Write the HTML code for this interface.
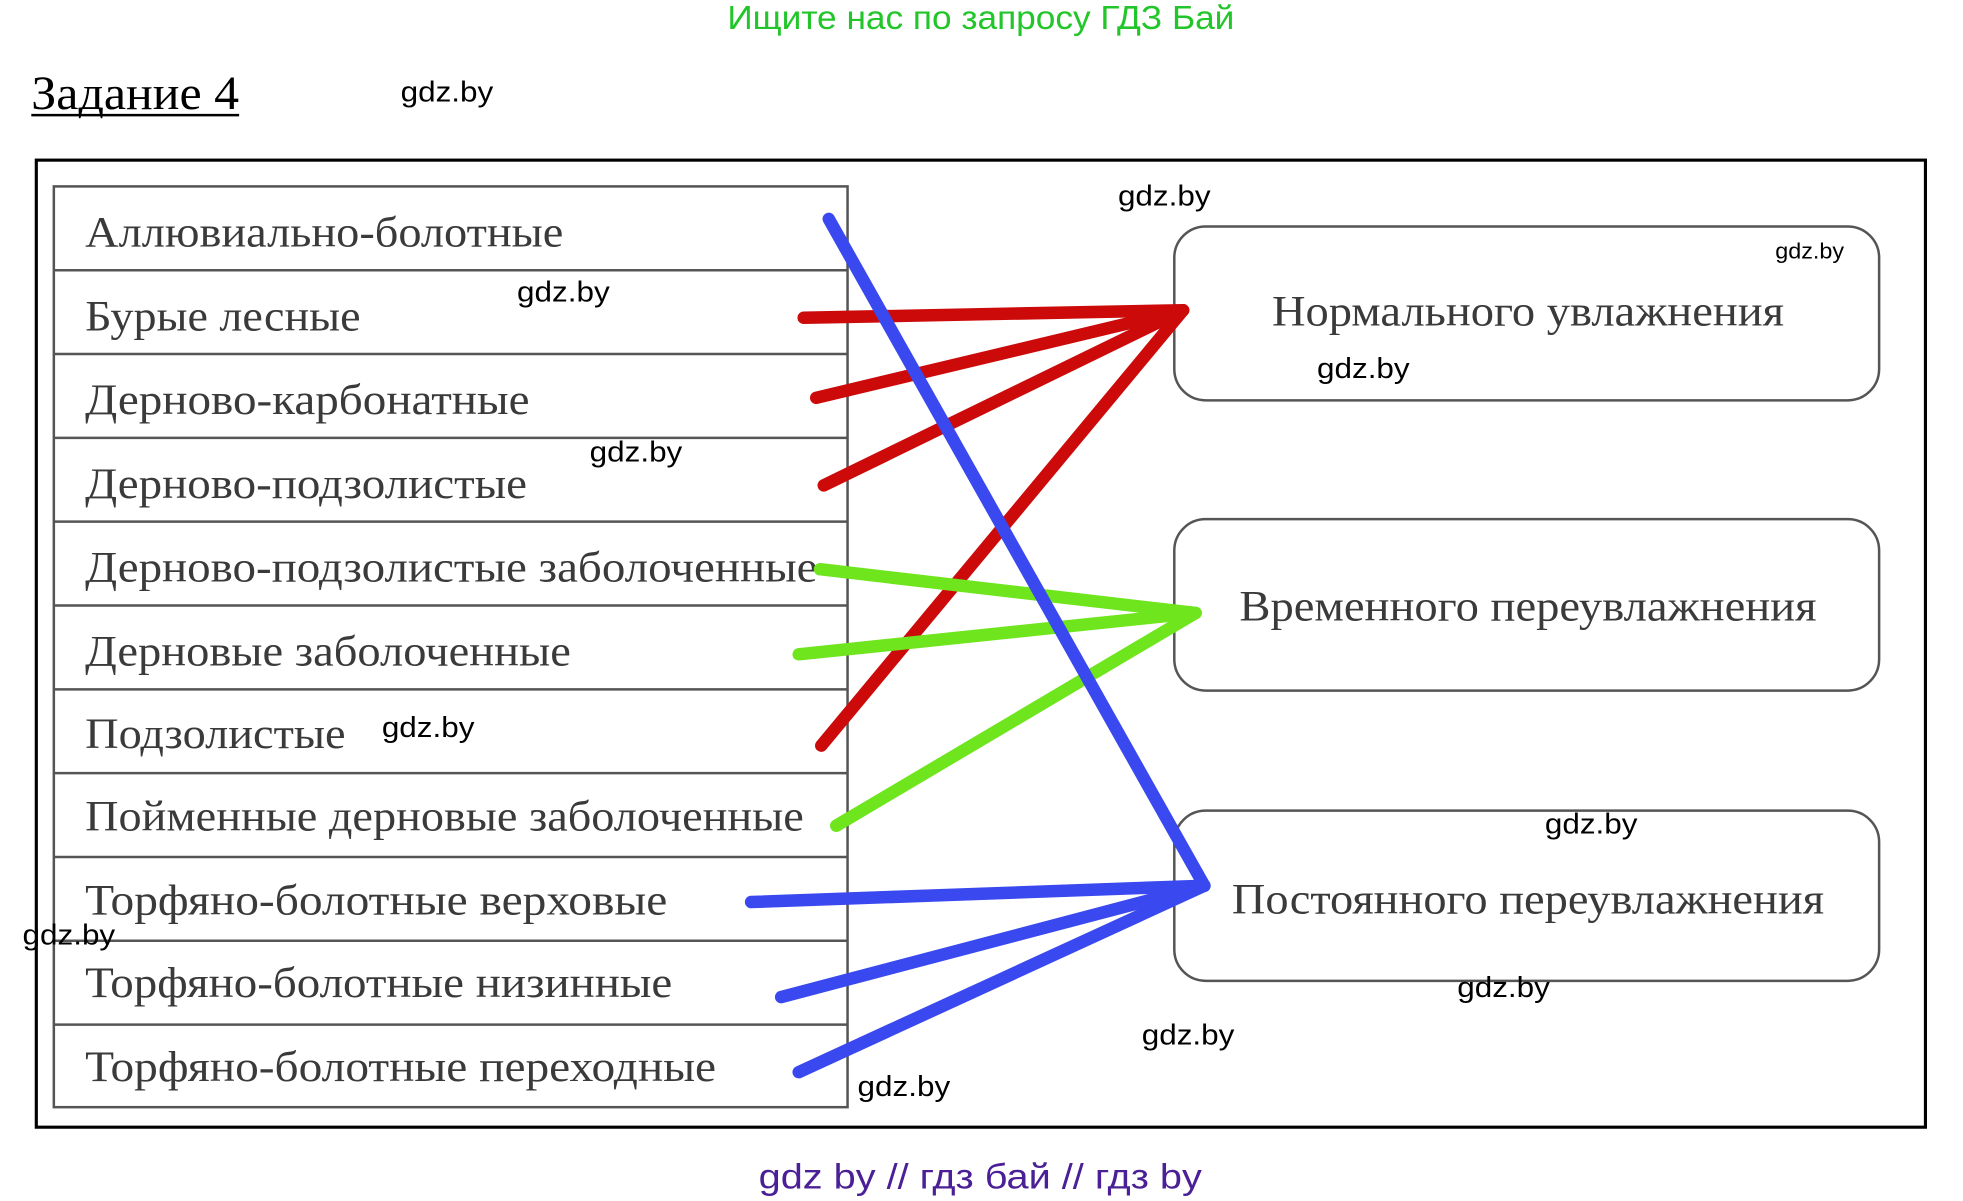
<!DOCTYPE html>
<html><head><meta charset="utf-8"><style>
html,body{margin:0;padding:0;background:#fff;}
svg{display:block;}
.s{font-family:"Liberation Serif",serif;font-size:35px;fill:#3a3a3a;}
.w{font-family:"Liberation Sans",sans-serif;font-size:23px;fill:#000;dominant-baseline:middle;}
</style></head><body>
<svg width="1963" height="1201" viewBox="0 0 1568 960" preserveAspectRatio="none" xmlns="http://www.w3.org/2000/svg">
<rect width="1568" height="960" fill="#fff"/>
<text x="581" y="23" textLength="405" lengthAdjust="spacingAndGlyphs" font-family="Liberation Sans, sans-serif" font-size="27" fill="#22c52a">Ищите нас по запросу ГДЗ Бай</text>
<text x="25" y="87" textLength="166" lengthAdjust="spacingAndGlyphs" font-family="Liberation Serif, serif" font-size="38" fill="#000">Задание 4</text>
<line x1="25" y1="92" x2="191" y2="92" stroke="#000" stroke-width="2"/>
<rect x="29" y="128" width="1509" height="773" fill="none" stroke="#000" stroke-width="2.5"/>
<g stroke="#555" stroke-width="2" fill="none">
<rect x="43" y="149" width="634" height="736"/>
<line x1="43" y1="216" x2="677" y2="216"/><line x1="43" y1="283" x2="677" y2="283"/>
<line x1="43" y1="350" x2="677" y2="350"/><line x1="43" y1="417" x2="677" y2="417"/>
<line x1="43" y1="484" x2="677" y2="484"/><line x1="43" y1="551" x2="677" y2="551"/>
<line x1="43" y1="618" x2="677" y2="618"/><line x1="43" y1="685" x2="677" y2="685"/>
<line x1="43" y1="752" x2="677" y2="752"/><line x1="43" y1="819" x2="677" y2="819"/>
<rect x="938" y="181" width="563" height="139" rx="25"/>
<rect x="938" y="415" width="563" height="137" rx="25"/>
<rect x="938" y="648" width="563" height="136" rx="25"/>
</g>
<g class="s" lengthAdjust="spacingAndGlyphs">
<text x="68" y="197" textLength="382" lengthAdjust="spacingAndGlyphs">Аллювиально-болотные</text>
<text x="68" y="264" textLength="220" lengthAdjust="spacingAndGlyphs">Бурые лесные</text>
<text x="68" y="331" textLength="355" lengthAdjust="spacingAndGlyphs">Дерново-карбонатные</text>
<text x="68" y="398" textLength="353" lengthAdjust="spacingAndGlyphs">Дерново-подзолистые</text>
<text x="68" y="465" textLength="585" lengthAdjust="spacingAndGlyphs">Дерново-подзолистые заболоченные</text>
<text x="68" y="532" textLength="388" lengthAdjust="spacingAndGlyphs">Дерновые заболоченные</text>
<text x="68" y="598" textLength="208" lengthAdjust="spacingAndGlyphs">Подзолистые</text>
<text x="68" y="664" textLength="574" lengthAdjust="spacingAndGlyphs">Пойменные дерновые заболоченные</text>
<text x="68" y="731" textLength="465" lengthAdjust="spacingAndGlyphs">Торфяно-болотные верховые</text>
<text x="68" y="797" textLength="469" lengthAdjust="spacingAndGlyphs">Торфяно-болотные низинные</text>
<text x="68" y="864" textLength="504" lengthAdjust="spacingAndGlyphs">Торфяно-болотные переходные</text>
<text x="1016" y="260" textLength="409" lengthAdjust="spacingAndGlyphs">Нормального увлажнения</text>
<text x="990" y="496" textLength="461" lengthAdjust="spacingAndGlyphs">Временного переувлажнения</text>
<text x="984" y="730" textLength="473" lengthAdjust="spacingAndGlyphs">Постоянного переувлажнения</text>
</g>
<g stroke-width="10" stroke-linecap="round" fill="none">
<g stroke="#cc0a0a">
<line x1="642" y1="254" x2="945" y2="248"/><line x1="652" y1="318" x2="945" y2="248"/>
<line x1="658" y1="388" x2="945" y2="248"/><line x1="656" y1="596" x2="945" y2="248"/>
</g>
<g stroke="#6ee51c">
<line x1="655" y1="455" x2="955" y2="490"/><line x1="638" y1="523" x2="955" y2="490"/>
<line x1="668" y1="660" x2="955" y2="490"/>
</g>
<g stroke="#3a48f0">
<line x1="662" y1="175" x2="962" y2="708"/><line x1="600" y1="721" x2="962" y2="708"/>
<line x1="624" y1="797" x2="962" y2="708"/><line x1="638" y1="857" x2="962" y2="708"/>
</g>
</g>
<g class="w">
<text x="320" y="75" textLength="74" lengthAdjust="spacingAndGlyphs">gdz.by</text>
<text x="893" y="158" textLength="74" lengthAdjust="spacingAndGlyphs">gdz.by</text>
<text x="1418" y="202" font-size="18" textLength="55" lengthAdjust="spacingAndGlyphs">gdz.by</text>
<text x="413" y="235" textLength="74" lengthAdjust="spacingAndGlyphs">gdz.by</text>
<text x="1052" y="296" textLength="74" lengthAdjust="spacingAndGlyphs">gdz.by</text>
<text x="471" y="363" textLength="74" lengthAdjust="spacingAndGlyphs">gdz.by</text>
<text x="305" y="583" textLength="74" lengthAdjust="spacingAndGlyphs">gdz.by</text>
<text x="1234" y="660" textLength="74" lengthAdjust="spacingAndGlyphs">gdz.by</text>
<text x="18" y="749" textLength="74" lengthAdjust="spacingAndGlyphs">gdz.by</text>
<text x="1164" y="791" textLength="74" lengthAdjust="spacingAndGlyphs">gdz.by</text>
<text x="912" y="829" textLength="74" lengthAdjust="spacingAndGlyphs">gdz.by</text>
<text x="685" y="870" textLength="74" lengthAdjust="spacingAndGlyphs">gdz.by</text>
</g>
<text x="606" y="950" textLength="354" lengthAdjust="spacingAndGlyphs" font-family="Liberation Sans, sans-serif" font-size="28" fill="#4b2096">gdz by  //  гдз бай  //  гдз by</text>
</svg>
</body></html>
